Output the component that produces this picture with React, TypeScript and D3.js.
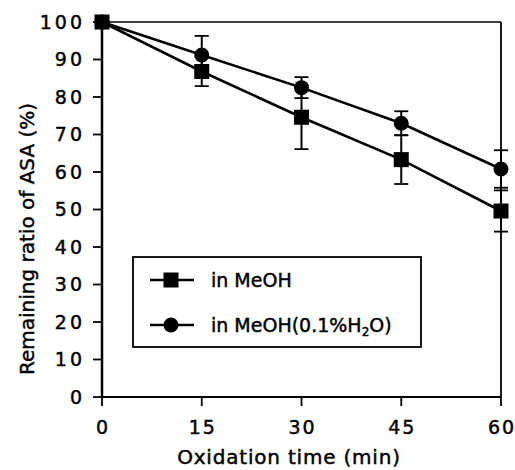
import React from "react";
import * as d3 from "d3";

const times = [0, 15, 30, 45, 60];
const meohValues = [100, 86.8, 74.6, 63.3, 49.6];
const meohErrors = [0, 3.9, 8.5, 6.5, 5.5];
const waterValues = [100, 91.2, 82.5, 73.0, 60.8];
const waterErrors = [0, 5.1, 2.8, 3.2, 5.0];
const xTicks = [0, 15, 30, 45, 60];
const yTicks = [0, 10, 20, 30, 40, 50, 60, 70, 80, 90, 100];
const legendLabels = ["in MeOH", "in MeOH(0.1%H", "2", "O)"];

const W = 515;
const H = 470;
const FONT = "'DejaVu Sans', sans-serif";

export default function App() {
  const x = d3.scaleLinear().domain([0, 60]).range([102, 501]);
  const y = d3.scaleLinear().domain([0, 100]).range([397, 22]);
  const line = d3
    .line<number>()
    .x((_, i) => x(times[i]))
    .y((d) => y(d));

  const series = [
    { values: meohValues, errors: meohErrors, shape: "square" },
    { values: waterValues, errors: waterErrors, shape: "circle" },
  ];

  const marker = (shape: string, cx: number, cy: number, key: string) =>
    shape === "square" ? (
      <rect key={key} x={cx - 7.5} y={cy - 7.5} width={15} height={15} fill="#000" />
    ) : (
      <circle key={key} cx={cx} cy={cy} r={7.5} fill="#000" />
    );

  const textStyle = { stroke: "#000", strokeWidth: 0.45 } as const;

  return (
    <svg
      width={W}
      height={H}
      style={{ position: "absolute", left: 0, top: 0, background: "#fff" }}
      fontFamily={FONT}
    >
      <rect x={0} y={0} width={W} height={H} fill="#fff" />
      {/* frame */}
      <line x1={x(0)} x2={x(60)} y1={y(100)} y2={y(100)} stroke="#000" strokeWidth={1.5} />
      <line x1={x(60)} x2={x(60)} y1={y(100)} y2={y(0)} stroke="#000" strokeWidth={1.8} />
      <line x1={x(0)} x2={x(60)} y1={y(0)} y2={y(0)} stroke="#000" strokeWidth={2} />
      <line x1={x(0)} x2={x(0)} y1={y(100)} y2={y(0)} stroke="#000" strokeWidth={2.5} />

      {/* y ticks */}
      {yTicks.map((t) => (
        <g key={"y" + t}>
          <line x1={x(0) - 9} x2={x(0)} y1={y(t)} y2={y(t)} stroke="#000" strokeWidth={1.8} />
          <text
            x={x(0) - 17}
            y={y(t)}
            dy="0.36em"
            textAnchor="end"
            fontSize={19}
            letterSpacing={3}
            fill="#000"
            style={textStyle}
          >
            {t}
          </text>
        </g>
      ))}

      {/* x ticks */}
      {xTicks.map((t) => (
        <g key={"x" + t}>
          <line x1={x(t)} x2={x(t)} y1={y(0)} y2={y(0) + 9} stroke="#000" strokeWidth={1.8} />
          <text
            x={x(t) + 1}
            y={y(0) + 37}
            textAnchor="middle"
            fontSize={19}
            letterSpacing={2}
            fill="#000"
            style={textStyle}
          >
            {t}
          </text>
        </g>
      ))}

      {/* axis titles */}
      <text
        x={289}
        y={464}
        textAnchor="middle"
        fontSize={20}
        letterSpacing={0.8}
        fill="#000"
        style={textStyle}
      >
        Oxidation time (min)
      </text>
      <text
        transform={`translate(34, 239) rotate(-90)`}
        textAnchor="middle"
        fontSize={20}
        fill="#000"
        style={textStyle}
      >
        Remaining ratio of ASA (%)
      </text>

      {/* series */}
      {series.map((s, si) => (
        <g key={"s" + si}>
          {s.values.map((v, i) =>
            s.errors[i] > 0 ? (
              <g key={"e" + i}>
                <line
                  x1={x(times[i])}
                  x2={x(times[i])}
                  y1={y(v - s.errors[i])}
                  y2={y(v + s.errors[i])}
                  stroke="#000"
                  strokeWidth={2}
                />
                <line
                  x1={x(times[i]) - 7}
                  x2={x(times[i]) + 7}
                  y1={y(v - s.errors[i])}
                  y2={y(v - s.errors[i])}
                  stroke="#000"
                  strokeWidth={1.8}
                />
                <line
                  x1={x(times[i]) - 7}
                  x2={x(times[i]) + 7}
                  y1={y(v + s.errors[i])}
                  y2={y(v + s.errors[i])}
                  stroke="#000"
                  strokeWidth={1.8}
                />
              </g>
            ) : null
          )}
          <path d={line(s.values) || ""} fill="none" stroke="#000" strokeWidth={2.6} />
          {s.values.map((v, i) => marker(s.shape, x(times[i]), y(v), "m" + i))}
        </g>
      ))}

      {/* legend */}
      <rect x={133} y={257} width={288} height={90} fill="#fff" stroke="#000" strokeWidth={1.8} />
      <line x1={150} x2={194} y1={280} y2={280} stroke="#000" strokeWidth={2.4} />
      {marker("square", 171, 280, "lg1")}
      <text x={211} y={280} dy="0.36em" fontSize={19} fill="#000" style={textStyle}>
        {legendLabels[0]}
      </text>
      <line x1={150} x2={194} y1={325} y2={325} stroke="#000" strokeWidth={2.4} />
      {marker("circle", 171, 325, "lg2")}
      <text x={211} y={325} dy="0.36em" fontSize={19} fill="#000" style={textStyle}>
        {legendLabels[1]}
        <tspan fontSize={12} dy="4">
          {legendLabels[2]}
        </tspan>
        <tspan dy="-4">{legendLabels[3]}</tspan>
      </text>
    </svg>
  );
}
